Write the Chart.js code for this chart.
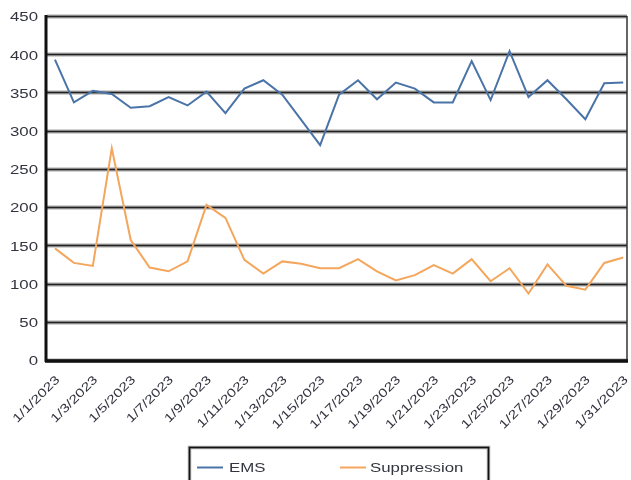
<!DOCTYPE html>
<html>
<head>
<meta charset="utf-8">
<script src="https://cdn.jsdelivr.net/npm/chart.js@4"></script>
<style>
  html, body { margin: 0; padding: 0; background: #fff; }
  #wrap { width: 631px; height: 480px; }
</style>
</head>
<body>
<div id="wrap"><canvas id="c" width="631" height="480"></canvas></div>
<script>
// Daily call counts, January 2023
const dateLabels = [
  '1/1/2023','1/2/2023','1/3/2023','1/4/2023','1/5/2023','1/6/2023','1/7/2023','1/8/2023',
  '1/9/2023','1/10/2023','1/11/2023','1/12/2023','1/13/2023','1/14/2023','1/15/2023','1/16/2023',
  '1/17/2023','1/18/2023','1/19/2023','1/20/2023','1/21/2023','1/22/2023','1/23/2023','1/24/2023',
  '1/25/2023','1/26/2023','1/27/2023','1/28/2023','1/29/2023','1/30/2023','1/31/2023'
];
const emsCalls = [
  393, 337, 352, 348, 330, 332, 344, 333, 351, 323, 355, 366, 347, 314, 281, 347,
  366, 341, 363, 355, 337, 337, 391, 340, 404, 344, 366, 341, 315, 362, 363
];
const suppressionCalls = [
  146, 127, 123, 277, 157, 121, 116, 129, 203, 186, 131, 113, 129, 126, 120, 120,
  132, 116, 104, 111, 124, 113, 132, 103, 120, 87, 125, 97, 92, 127, 134
];
const yTicks = [0, 50, 100, 150, 200, 250, 300, 350, 400, 450];
const seriesNames = ['EMS', 'Suppression'];
const seriesColors = ['#4a74a8', '#f4a65c'];

const toPoints = vals => vals.map((v, i) => ({ x: i, y: v }));

const TEXT_FONT = '12px "Liberation Sans", Arial, sans-serif';
const TEXT_COLOR = '#33343f';
const STRETCH = 1.4; // wide-set lettering

// Heavy two-tone gridlines, thick left/bottom axes and a thin right frame
const frameGrid = {
  id: 'frameGrid',
  beforeDatasetsDraw(chart) {
    const { ctx, chartArea, scales } = chart;
    ctx.save();
    yTicks.forEach(v => {
      const y = Math.round(scales.y.getPixelForValue(v)) + 0.5;
      ctx.strokeStyle = '#a8a8a8';
      ctx.lineWidth = 4;
      ctx.beginPath(); ctx.moveTo(chartArea.left, y); ctx.lineTo(chartArea.right, y); ctx.stroke();
      ctx.strokeStyle = '#222';
      ctx.lineWidth = 1.6;
      ctx.beginPath(); ctx.moveTo(chartArea.left, y); ctx.lineTo(chartArea.right, y); ctx.stroke();
    });
    ctx.strokeStyle = '#333';
    ctx.lineWidth = 1.5;
    ctx.beginPath(); ctx.moveTo(chartArea.right, chartArea.top); ctx.lineTo(chartArea.right, chartArea.bottom); ctx.stroke();
    ctx.strokeStyle = '#111';
    ctx.lineWidth = 3;
    ctx.beginPath(); ctx.moveTo(chartArea.left - 1, chartArea.top - 1); ctx.lineTo(chartArea.left - 1, chartArea.bottom + 2); ctx.stroke();
    ctx.lineWidth = 3.5;
    ctx.beginPath(); ctx.moveTo(chartArea.left - 2, chartArea.bottom + 1); ctx.lineTo(chartArea.right + 1, chartArea.bottom + 1); ctx.stroke();
    ctx.restore();
  }
};

// Tick labels for both axes, set in wide lettering
const axisLabels = {
  id: 'axisLabels',
  afterDraw(chart) {
    const { ctx, scales, chartArea } = chart;
    ctx.save();
    ctx.font = TEXT_FONT;
    ctx.fillStyle = TEXT_COLOR;
    ctx.textBaseline = 'middle';
    ctx.textAlign = 'right';
    scales.y.ticks.forEach(t => {
      const y = scales.y.getPixelForValue(t.value) + 2;
      ctx.save();
      ctx.translate(chartArea.left - 9, y);
      ctx.scale(STRETCH, 1);
      ctx.fillText(String(t.value), 0, 0);
      ctx.restore();
    });
    scales.x.ticks.forEach(t => {
      const label = dateLabels[t.value];
      if (!label) return;
      const x = scales.x.getPixelForValue(t.value) + 3;
      ctx.save();
      ctx.translate(x, chartArea.bottom + 18);
      ctx.rotate(-Math.PI / 4);
      ctx.scale(1.3, 1);
      ctx.fillText(label, 0, 0);
      ctx.restore();
    });
    ctx.restore();
  }
};

// Boxed legend beneath the axis labels
const boxLegend = {
  id: 'boxLegend',
  afterDraw(chart) {
    const { ctx } = chart;
    ctx.save();
    ctx.strokeStyle = '#aaa';
    ctx.lineWidth = 3.5;
    ctx.strokeRect(189.5, 447.5, 299, 40);
    ctx.strokeStyle = '#111';
    ctx.lineWidth = 1.6;
    ctx.strokeRect(189.5, 447.5, 299, 40);
    ctx.font = TEXT_FONT;
    ctx.textBaseline = 'middle';
    ctx.fillStyle = TEXT_COLOR;
    const slots = [{ line: 197, text: 229 }, { line: 340, text: 370 }];
    chart.data.datasets.forEach((ds, i) => {
      const s = slots[i], y = 467.5;
      ctx.strokeStyle = ds.borderColor;
      ctx.lineWidth = 2;
      ctx.beginPath(); ctx.moveTo(s.line, y); ctx.lineTo(s.line + 26, y); ctx.stroke();
      ctx.save();
      ctx.translate(s.text, y + 1);
      ctx.scale(STRETCH, 1);
      ctx.fillText(ds.label, 0, 0);
      ctx.restore();
    });
    ctx.restore();
  }
};

new Chart(document.getElementById('c'), {
  type: 'line',
  data: {
    datasets: [
      { label: seriesNames[0], data: toPoints(emsCalls), borderColor: seriesColors[0], backgroundColor: seriesColors[0],
        borderWidth: 2, pointRadius: 0, tension: 0 },
      { label: seriesNames[1], data: toPoints(suppressionCalls), borderColor: seriesColors[1], backgroundColor: seriesColors[1],
        borderWidth: 2, pointRadius: 0, tension: 0 }
    ]
  },
  options: {
    responsive: false,
    animation: false,
    events: [],
    layout: { padding: { top: 16, right: 4, left: 0, bottom: 0 } },
    plugins: { legend: { display: false }, tooltip: { enabled: false }, title: { display: false } },
    scales: {
      x: {
        type: 'linear',
        min: -0.42,
        max: 30.2,
        afterBuildTicks(scale) { scale.ticks = dateLabels.map((_, i) => ({ value: i })).filter(t => t.value % 2 === 0); },
        afterFit(scale) { scale.height = 120; scale.paddingLeft = 0; scale.paddingRight = 0; },
        grid: { display: false, drawTicks: false },
        border: { display: false },
        ticks: { display: false, autoSkip: false }
      },
      y: {
        min: 0,
        max: 450,
        afterBuildTicks(scale) { scale.ticks = yTicks.map(v => ({ value: v })); },
        afterFit(scale) { scale.width = 47; scale.paddingTop = 0; scale.paddingBottom = 0; },
        grid: { display: false, drawTicks: false },
        border: { display: false },
        ticks: { display: false }
      }
    }
  },
  plugins: [frameGrid, axisLabels, boxLegend]
});
</script>
</body>
</html>
